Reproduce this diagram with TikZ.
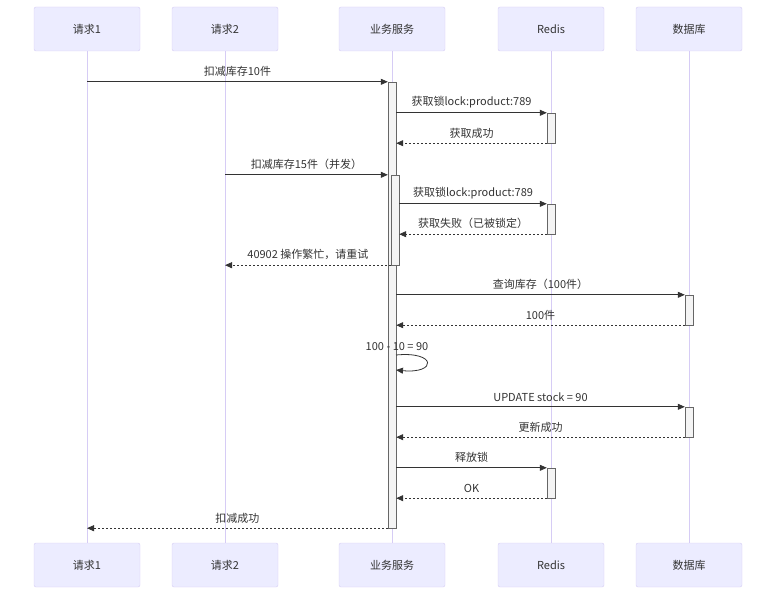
\documentclass[tikz,border=0pt]{standalone}
\usepackage{fontspec}
\setmainfont{Noto Sans CJK SC}
\usetikzlibrary{arrows.meta}

\definecolor{actorfill}{HTML}{ECECFF}
\definecolor{actorline}{HTML}{D6CCF5}
\definecolor{actfill}{HTML}{F4F4F4}
\definecolor{actline}{HTML}{666666}
\definecolor{ink}{HTML}{333333}

\begin{document}
\begin{tikzpicture}[x=1pt, y=-1pt]
\tikzset{ >={Triangle[length=7pt,width=6pt]},
  actor/.style={draw=actorline, fill=actorfill, rounded corners=2pt,
    minimum width=106pt, minimum height=44pt, text=ink,
    font=\fontsize{11}{13}\selectfont},
  life/.style={actorline, line width=0.8pt},
  act/.style={draw=actline, fill=actfill, minimum width=8pt, inner sep=0pt},
  msg/.style={->, ink, line width=0.8pt},
  ret/.style={msg, dash pattern=on 2pt off 2pt},
  lbl/.style={midway, above=1.5pt, text=ink, font=\fontsize{11}{13}\selectfont},
}

\useasboundingbox (0,0) rectangle (784,602);

% actors, top and bottom
\node [actor] (t1) at (87,29)  {请求1};
\node [actor] (t2) at (225,29) {请求2};
\node [actor] (t3) at (392,29) {业务服务};
\node [actor] (t4) at (551,29) {Redis};
\node [actor] (t5) at (689,29) {数据库};

\node [actor] (b1) at (87,565)  {请求1};
\node [actor] (b2) at (225,565) {请求2};
\node [actor] (b3) at (392,565) {业务服务};
\node [actor] (b4) at (551,565) {Redis};
\node [actor] (b5) at (689,565) {数据库};

% lifelines
\draw [life] (t1) -- (b1);
\draw [life] (t2) -- (b2);
\draw [life] (t3) -- (b3);
\draw [life] (t4) -- (b4);
\draw [life] (t5) -- (b5);

% activations
\node [act, minimum height=446pt] (a1)  at (392,305) {};
\node [act, minimum height=90pt]  (a2)  at (395,220) {};
\node [act, minimum height=30pt]  (ra1) at (551,128) {};
\node [act, minimum height=30pt]  (ra2) at (551,219) {};
\node [act, minimum height=30pt]  (ra3) at (551,483) {};
\node [act, minimum height=30pt]  (da1) at (689,310) {};
\node [act, minimum height=30pt]  (da2) at (689,422) {};

% messages
\draw [msg] (t1 |- a1.north) -- (a1.north west) node [lbl] {扣减库存10件};
\draw [msg] (a1.east |- ra1.north) -- (ra1.north west) node [lbl] {获取锁lock:product:789};
\draw [ret] (ra1.south west) -- (a1.east |- ra1.south) node [lbl] {获取成功};
\draw [msg] (t2 |- a2.north) -- (a1.west |- a2.north) node [lbl] {扣减库存15件（并发）};
\draw [msg] (a2.east |- ra2.north) -- (ra2.north west) node [lbl] {获取锁lock:product:789};
\draw [ret] (ra2.south west) -- (a2.east |- ra2.south) node [lbl] {获取失败（已被锁定）};
\draw [ret] (a2.south west) -- (t2 |- a2.south) node [lbl] {40902 操作繁忙，请重试};
\draw [msg] (a1.east |- da1.north) -- (da1.north west) node [lbl] {查询库存（100件）};
\draw [ret] (da1.south west) -- (a1.east |- da1.south) node [lbl] {100件};

\coordinate (s1) at (396,355);
\coordinate (s2) at (396,370);
\draw [msg] (s1) .. controls (437,351) and (437,374) .. (s2);
\node [text=ink, font=\fontsize{11}{13}\selectfont] (self) at (397,347) {100 - 10 = 90};

\draw [msg] (a1.east |- da2.north) -- (da2.north west) node [lbl] {UPDATE stock = 90};
\draw [ret] (da2.south west) -- (a1.east |- da2.south) node [lbl] {更新成功};
\draw [msg] (a1.east |- ra3.north) -- (ra3.north west) node [lbl] {释放锁};
\draw [ret] (ra3.south west) -- (a1.east |- ra3.south) node [lbl] {OK};
\draw [ret] (a1.south west) -- (t1 |- a1.south) node [lbl] {扣减成功};
\end{tikzpicture}
\end{document}
